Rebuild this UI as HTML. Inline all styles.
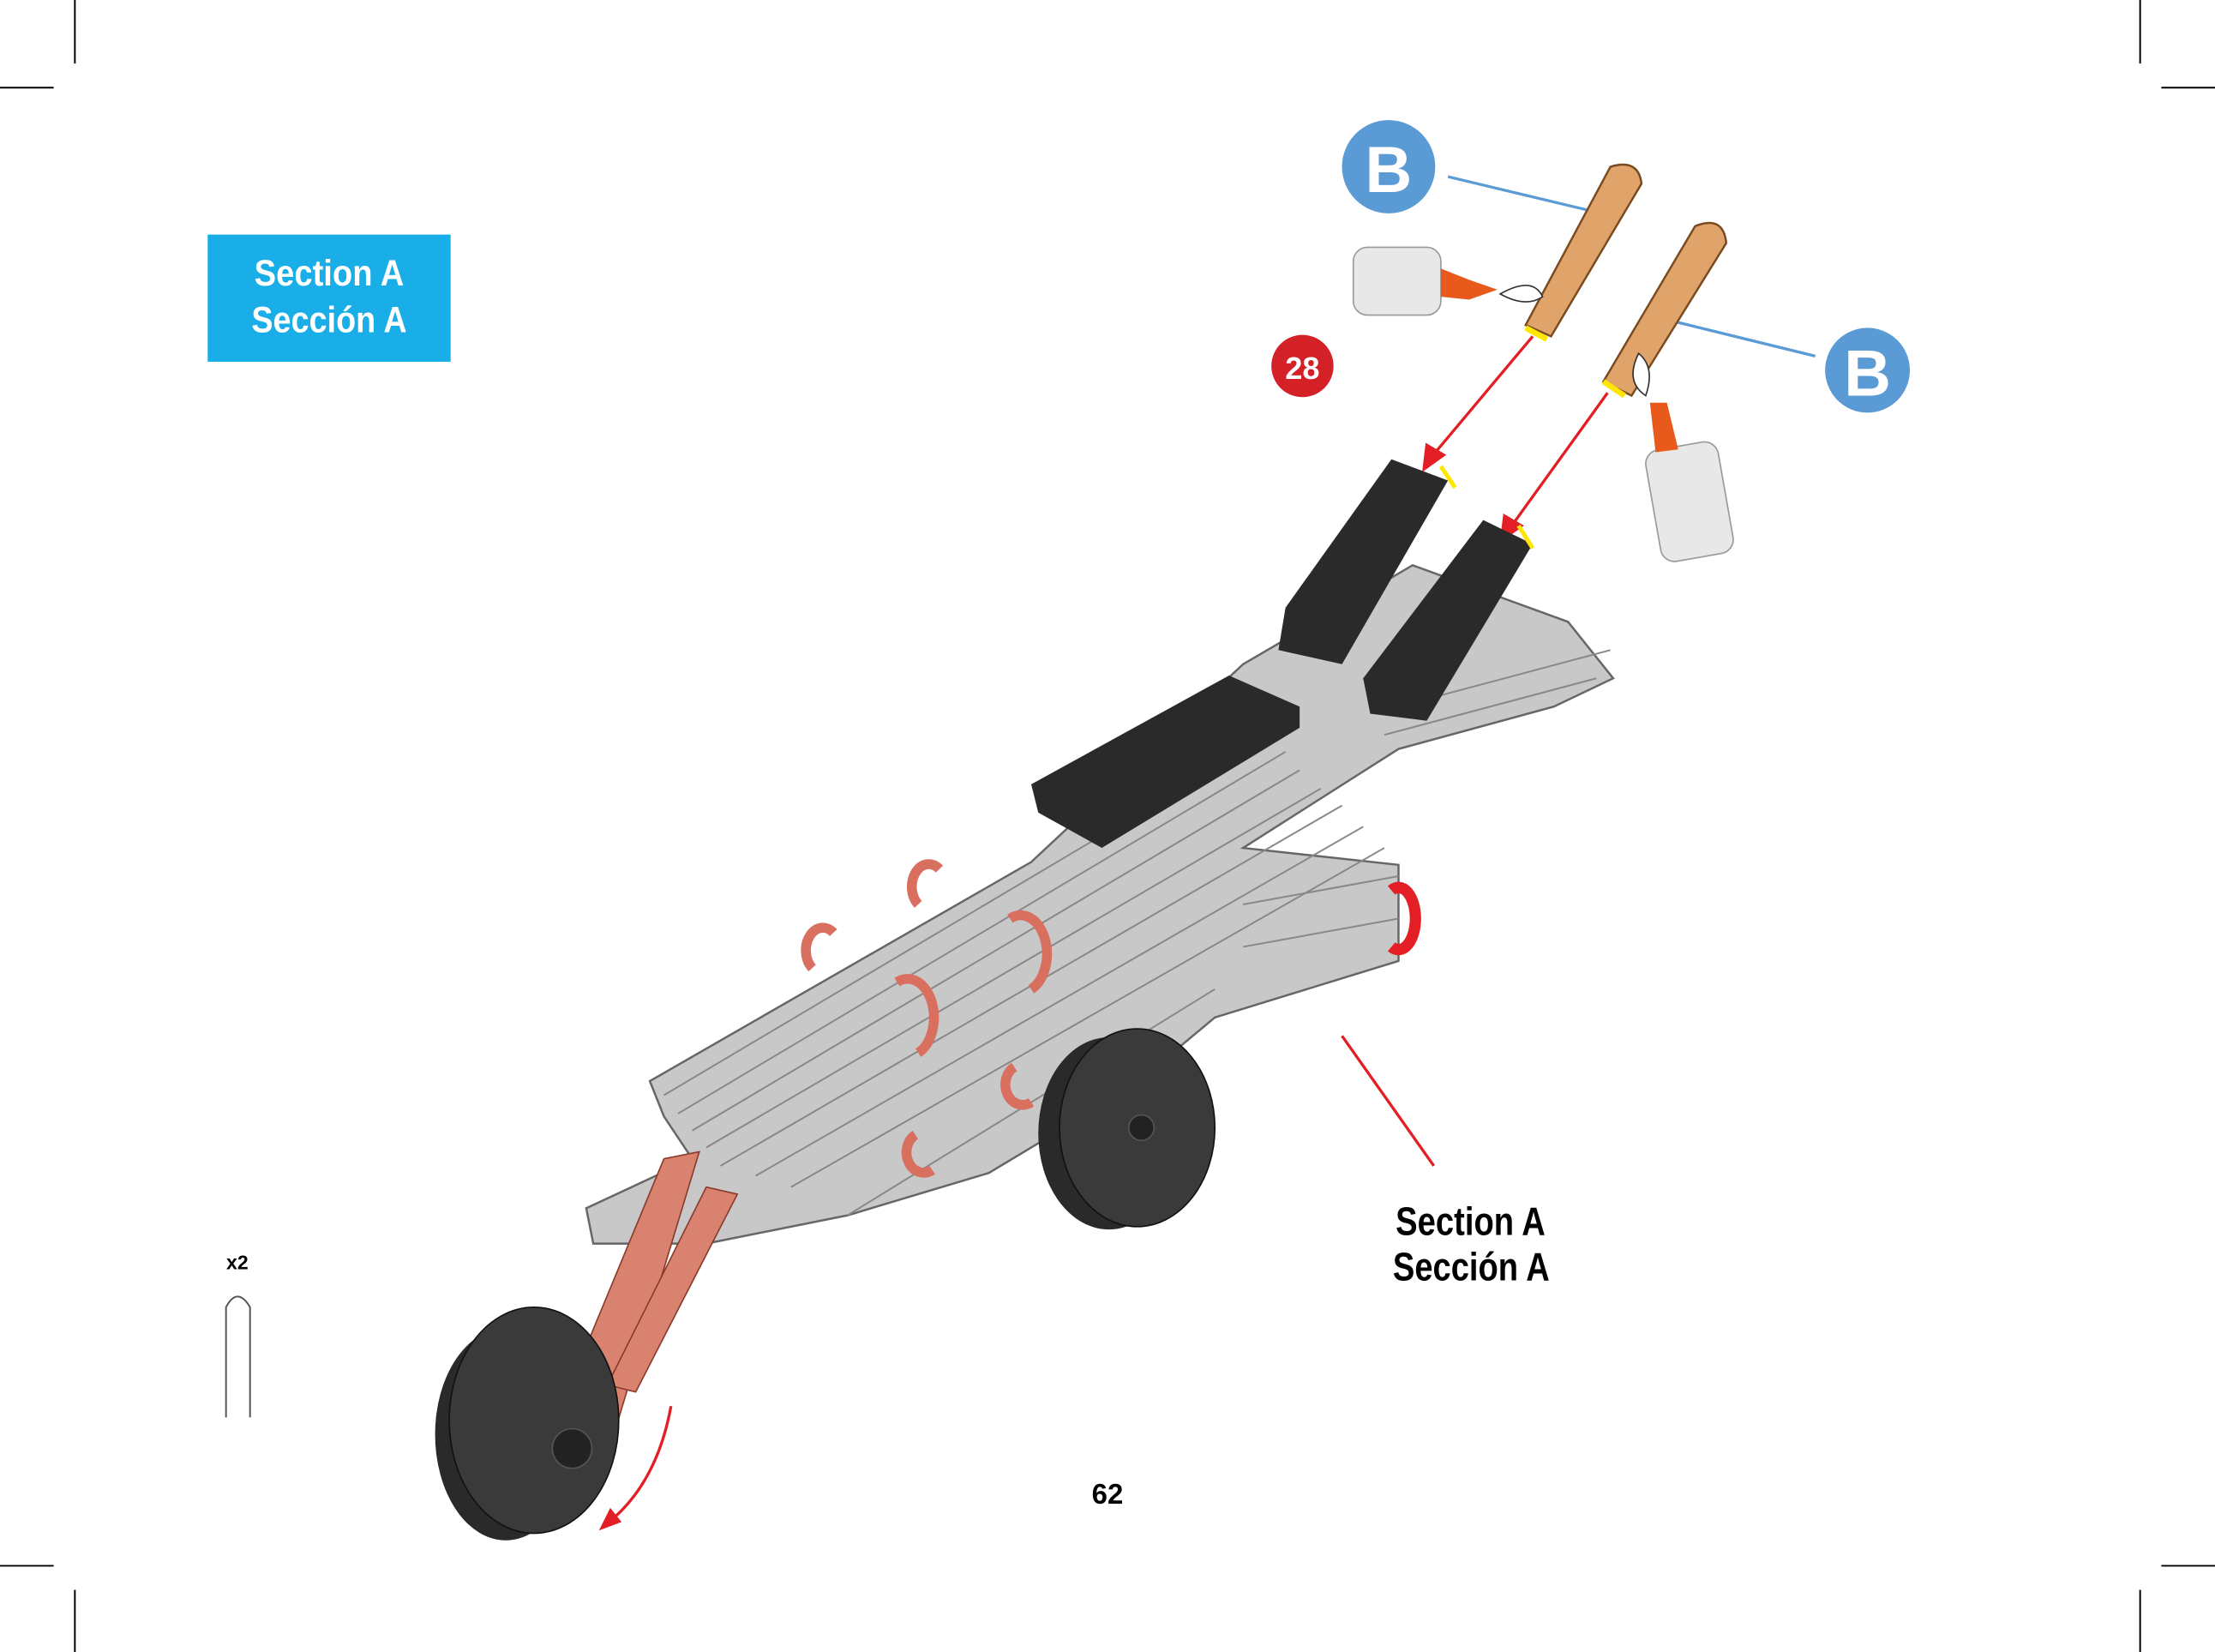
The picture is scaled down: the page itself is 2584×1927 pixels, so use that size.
<!DOCTYPE html>
<html><head><meta charset="utf-8"><style>
html,body{margin:0;padding:0;background:#fff;width:2584px;height:1927px;overflow:hidden}
svg{display:block}
text{font-family:"Liberation Sans",sans-serif}
</style></head><body>
<svg width="2584" height="1927" viewBox="0 0 1568 1169" preserveAspectRatio="none">
<rect width="1568" height="1169" fill="#fff"/>
<g stroke="#000" stroke-width="1.2">
<line x1="53" y1="0" x2="53" y2="45"/><line x1="0" y1="62" x2="38" y2="62"/>
<line x1="1515" y1="0" x2="1515" y2="45"/><line x1="1530" y1="62" x2="1568" y2="62"/>
<line x1="0" y1="1108" x2="38" y2="1108"/><line x1="53" y1="1125" x2="53" y2="1169"/>
<line x1="1530" y1="1108" x2="1568" y2="1108"/><line x1="1515" y1="1125" x2="1515" y2="1169"/>
</g>
<rect x="147" y="166" width="172" height="90" fill="#1aaee8"/>
<text x="180" y="202" fill="#fff" font-size="26" font-weight="bold" textLength="106" lengthAdjust="spacingAndGlyphs">Section A</text>
<text x="178" y="235" fill="#fff" font-size="26" font-weight="bold" textLength="110" lengthAdjust="spacingAndGlyphs">Sección A</text>
<circle cx="922" cy="259" r="22" fill="#d42027"/>
<text x="922" y="268" fill="#fff" font-size="22" font-weight="bold" text-anchor="middle">28</text>
<line x1="1025" y1="125" x2="1138" y2="152" stroke="#5b9bd5" stroke-width="2"/>
<line x1="1175" y1="225" x2="1285" y2="252" stroke="#5b9bd5" stroke-width="2"/>
<circle cx="983" cy="118" r="33" fill="#5b9bd5"/>
<text x="983" y="136" fill="#fff" font-size="46" font-weight="bold" text-anchor="middle" font-family="Liberation Serif">B</text>
<circle cx="1322" cy="262" r="30" fill="#5b9bd5"/>
<text x="1322" y="280" fill="#fff" font-size="46" font-weight="bold" text-anchor="middle" font-family="Liberation Serif">B</text>
<g stroke="#7a4a20" stroke-width="1.5">
<path d="M1140,118 Q1160,112 1162,130 L1098,238 L1080,230 Z" fill="#e0a46a"/>
<path d="M1200,160 Q1220,152 1222,172 L1155,280 L1135,270 Z" fill="#e0a46a"/>
</g>
<line x1="1080" y1="232" x2="1095" y2="240" stroke="#ffe600" stroke-width="4"/>
<line x1="1135" y1="270" x2="1150" y2="280" stroke="#ffe600" stroke-width="4"/>
<rect x="958" y="175" width="62" height="48" rx="10" fill="#e8e8e8" stroke="#999"/>
<path d="M1020,190 L1040,198 L1060,205 L1040,212 L1020,210Z" fill="#e85a1c"/>
<path d="M1062,208 Q1085,195 1092,210 Q1080,218 1062,208Z" fill="#fff" stroke="#333"/>
<rect x="1170" y="315" width="52" height="80" rx="10" fill="#e8e8e8" stroke="#999" transform="rotate(-10 1196 355)"/>
<path d="M1168,285 L1180,285 L1188,318 L1172,320Z" fill="#e85a1c"/>
<path d="M1160,250 Q1150,270 1165,280 Q1172,260 1160,250Z" fill="#fff" stroke="#333"/>
<g stroke="#e31e24" stroke-width="2" fill="#e31e24">
<line x1="1085" y1="238" x2="1012" y2="325"/><polygon points="1008,332 1010,315 1022,322"/>
<line x1="1138" y1="278" x2="1068" y2="375"/><polygon points="1063,382 1065,365 1077,372"/>
</g>
<polygon points="460,765 730,610 880,470 1000,400 1110,440 1142,480 1100,500 990,530 880,600 990,612 990,680 860,720 800,770 700,830 600,860 500,880 420,880 415,855 490,820 470,790" fill="#c8c8c8" stroke="#666" stroke-width="1.5"/>
<g stroke="#888" stroke-width="1.2" fill="none">
<path d="M470,775 L900,520"/><path d="M490,800 L920,545"/><path d="M510,825 L950,570"/><path d="M560,840 L980,600"/>
<path d="M600,860 L860,700"/><path d="M880,640 L990,620"/><path d="M880,670 L990,650"/><path d="M990,500 L1140,460"/><path d="M980,520 L1130,480"/>
<path d="M480,788 L910,532"/><path d="M500,812 L935,558"/><path d="M535,832 L965,585"/>
</g>
<polygon points="730,555 870,478 920,500 920,515 780,600 735,575" fill="#2a2a2a"/>
<polygon points="910,430 985,325 1025,340 950,470 905,460" fill="#2a2a2a"/>
<polygon points="965,480 1050,368 1085,385 1010,510 970,505" fill="#2a2a2a"/>
<line x1="1020" y1="330" x2="1030" y2="345" stroke="#ffe600" stroke-width="3"/>
<line x1="1075" y1="372" x2="1085" y2="388" stroke="#ffe600" stroke-width="3"/>
<g fill="none" stroke="#d9705f" stroke-width="7">
<path d="M575,685 a12,16 0 1 1 15,-25"/><path d="M650,640 a12,16 0 1 1 15,-25"/>
<path d="M730,700 a15,22 0 1 0 -15,-50"/><path d="M650,745 a15,22 0 1 0 -15,-50"/>
<path d="M730,780 a12,14 0 1 1 -12,-25"/><path d="M660,828 a12,14 0 1 1 -12,-25"/>
</g>
<path d="M985,630 a12,22 0 1 1 0,40" fill="none" stroke="#e31e24" stroke-width="8"/>
<ellipse cx="785" cy="802" rx="50" ry="68" fill="#2a2a2a"/>
<ellipse cx="805" cy="798" rx="55" ry="70" fill="#3a3a3a" stroke="#111"/>
<circle cx="808" cy="798" r="9" fill="#222" stroke="#555"/>
<polygon points="470,820 495,815 430,1030 400,1045 385,1025" fill="#d9826f" stroke="#8a3b2c"/>
<polygon points="500,840 522,845 450,985 430,980" fill="#d9826f" stroke="#8a3b2c"/>
<ellipse cx="358" cy="1015" rx="50" ry="75" fill="#2a2a2a"/>
<ellipse cx="378" cy="1005" rx="60" ry="80" fill="#3a3a3a" stroke="#111"/>
<circle cx="405" cy="1025" r="14" fill="#222" stroke="#555"/>
<path d="M475,995 Q465,1050 430,1078" fill="none" stroke="#e31e24" stroke-width="2"/>
<polygon points="424,1083 432,1067 440,1077" fill="#e31e24"/>
<line x1="950" y1="733" x2="1015" y2="825" stroke="#e31e24" stroke-width="2"/>
<text x="988" y="874" font-size="28" font-weight="bold" textLength="106" lengthAdjust="spacingAndGlyphs">Section A</text>
<text x="986" y="906" font-size="28" font-weight="bold" textLength="111" lengthAdjust="spacingAndGlyphs">Sección A</text>
<text x="784" y="1064" font-size="20" font-weight="bold" text-anchor="middle">62</text>
<text x="168" y="898" font-size="14" font-weight="bold" text-anchor="middle">x2</text>
<path d="M160,1003 L160,925 Q168,910 177,925 L177,1003" fill="none" stroke="#555" stroke-width="1.2"/>
</svg>
</body></html>
